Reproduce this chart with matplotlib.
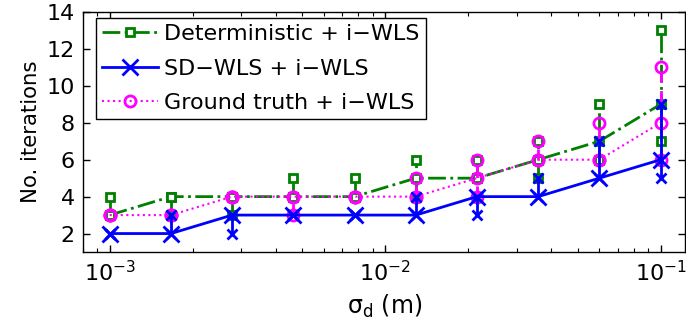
import numpy as np
import matplotlib
matplotlib.use("Agg")
import matplotlib.pyplot as plt
from matplotlib.lines import Line2D

plt.rcParams['font.family'] = ['DejaVu Sans']
plt.rcParams['mathtext.fontset'] = 'dejavusans'
plt.rcParams['mathtext.default'] = 'regular'

sigma_d = [1.0e-3, 1.668e-3, 2.783e-3, 4.642e-3, 7.743e-3,
           1.292e-2, 2.154e-2, 3.594e-2, 5.995e-2, 1.0e-1]

det_med = [3, 4, 4, 4, 4, 5, 5, 6, 7, 9]
det_min = [3, 3, 3, 4, 4, 4, 5, 5, 6, 7]
det_max = [4, 4, 4, 5, 5, 6, 6, 7, 9, 13]

sd_med = [2, 2, 3, 3, 3, 3, 4, 4, 5, 6]
sd_min = [2, 2, 2, 3, 3, 3, 3, 4, 5, 5]
sd_max = [2, 3, 3, 3, 3, 4, 4, 5, 7, 9]

gt_med = [3, 3, 4, 4, 4, 4, 5, 6, 6, 8]
gt_min = [3, 3, 4, 3, 4, 4, 4, 6, 6, 6]
gt_max = [3, 3, 4, 4, 4, 5, 6, 7, 8, 11]

labels = ['Deterministic + i\u2212WLS', 'SD\u2212WLS + i\u2212WLS', 'Ground truth + i\u2212WLS']

fig = plt.figure(figsize=(6.86, 3.34), dpi=100)
ax = fig.add_axes([0.121, 0.2455, 0.878, 0.7185])

green = '#008000'
blue = '#0000ff'
mag = '#ff00ff'

# Deterministic (green)
ax.vlines(sigma_d, det_min, det_max, colors=green, linestyles='-.', linewidth=2, zorder=2)
ax.plot(sigma_d, det_med, color=green, linestyle='-.', linewidth=2, zorder=2)
for arr in (det_min, det_max, det_med):
    ax.plot(sigma_d, arr, linestyle='none', marker='s', ms=6, mfc='white', mec=green, mew=2, zorder=3)

# Ground truth (magenta)
ax.vlines(sigma_d, gt_min, gt_max, colors=mag, linestyles=(0, (4, 3)), linewidth=2, zorder=4)
ax.plot(sigma_d, gt_med, color=mag, linestyle=':', linewidth=1.5, zorder=4)
for arr in (gt_min, gt_max, gt_med):
    ax.plot(sigma_d, arr, linestyle='none', marker='o', ms=8, mfc='none', mec=mag, mew=2, zorder=5)

# SD-WLS (blue)
ax.vlines(sigma_d, sd_min, sd_max, colors=blue, linestyles='-', linewidth=2, zorder=6)
ax.plot(sigma_d, sd_med, color=blue, linestyle='-', linewidth=2, marker='x', ms=12, mew=2, zorder=7)
ax.plot(sigma_d, sd_min, linestyle='none', marker='x', ms=7, mec=blue, mew=2, zorder=7)
ax.plot(sigma_d, sd_max, linestyle='none', marker='x', ms=7, mec=blue, mew=2, zorder=7)

ax.set_xscale('log')
ax.set_xlim(8.0e-4, 1.23e-1)
ax.set_ylim(1, 14)
ax.set_yticks([2, 4, 6, 8, 10, 12, 14])
ax.tick_params(which='both', direction='in', top=True, right=True)
ax.tick_params(axis='y', labelsize=16)
ax.tick_params(axis='x', labelsize=16)
ax.tick_params(which='major', length=5, width=1, pad=6)
ax.tick_params(which='minor', length=3, width=0.8)
for s in ax.spines.values():
    s.set_linewidth(1)

ax.set_ylabel('No. iterations', fontsize=15.3, labelpad=4)
ax.set_xlabel(r'$\sigma_d$ (m)', fontsize=17, labelpad=5)

handles = [
    Line2D([], [], color=green, linestyle='-.', linewidth=2, marker='s', ms=6, mfc='white', mec=green, mew=2),
    Line2D([], [], color=blue, linestyle='-', linewidth=2, marker='x', ms=12, mew=2),
    Line2D([], [], color=mag, linestyle=':', linewidth=1.5, marker='o', ms=8, mfc='none', mec=mag, mew=2),
]
leg = ax.legend(handles, labels, loc='upper left', bbox_to_anchor=(0.0216, 0.975),
                borderaxespad=0, fontsize=16, frameon=True, fancybox=False,
                edgecolor='black', framealpha=1, handlelength=2.5,
                handletextpad=0.3, labelspacing=0.65, borderpad=0.28)
leg.get_frame().set_linewidth(1)

fig.savefig('out.png', dpi=100)
